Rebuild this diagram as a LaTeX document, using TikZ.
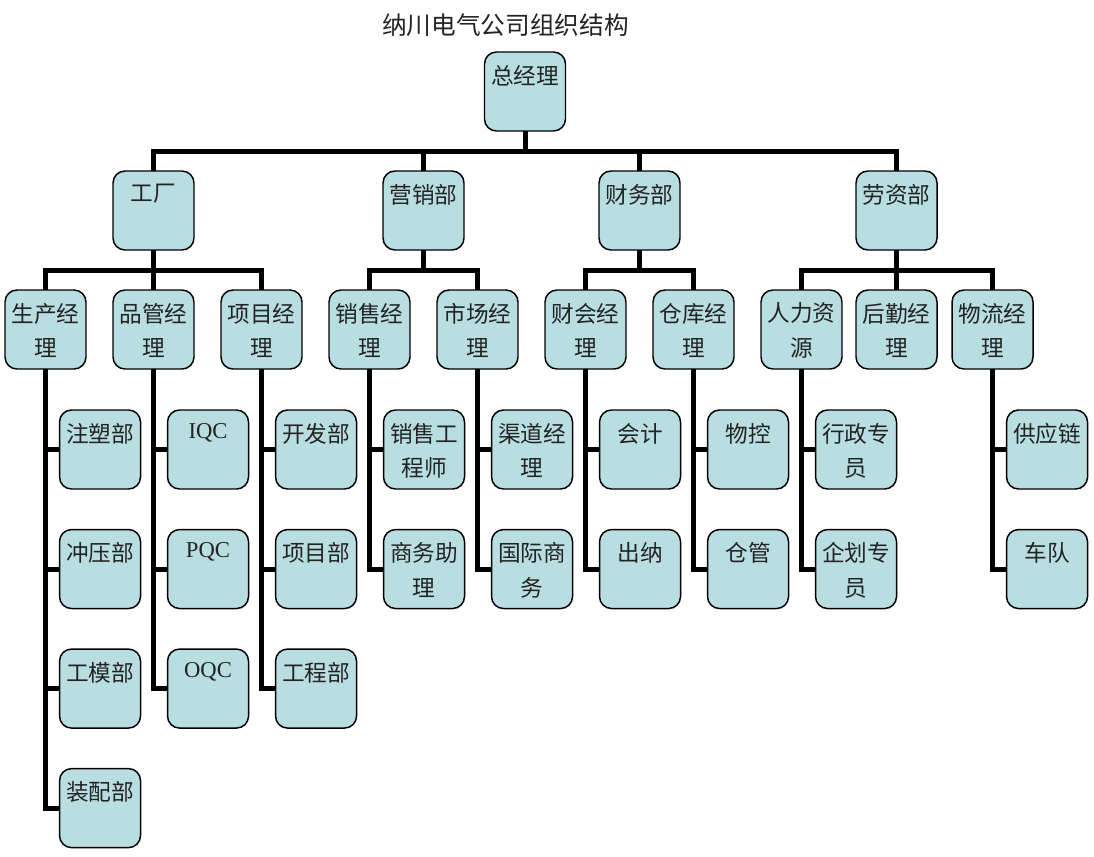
\documentclass[tikz,border=0pt]{standalone}
\usepackage{fontspec}
\setmainfont{Noto Sans CJK SC}
\newfontfamily\latinfont{Liberation Serif}
\usetikzlibrary{positioning, calc}
\definecolor{boxfill}{RGB}{185,222,226}
\definecolor{txtgray}{RGB}{35,35,35}

\tikzset{
  box/.style={draw, line width=1.1pt, rounded corners=9pt, fill=boxfill, text=txtgray,
    minimum width=60.75pt, minimum height=59.25pt, inner xsep=0pt, inner ysep=9.75pt, outer sep=0pt,
    execute at begin node={\begin{minipage}[t][39.75pt][t]{58pt}\centering\fontsize{17}{26}\selectfont},
    execute at end node={\end{minipage}}},
  conn/.style={line width=3.75pt},
  title/.style={font=\fontsize{18.5}{22}\selectfont, text=txtgray}
}

\begin{document}
\begin{tikzpicture}[x=0.75pt, y=-0.75pt]
    \useasboundingbox (0,0) rectangle (1094,856);

        % Title
        \node[title] (ttl) at (505.5,25) {纳川电气公司组织结构};

        % Managers, third row
        \node[box] (pm) at (45.5,329.5) {生产经\\理};
        \node[box] (qm) [right=20.25pt of pm] {品管经\\理};
        \node[box] (jm) [right=20.25pt of qm] {项目经\\理};
        \node[box] (sm) [right=20.25pt of jm] {销售经\\理};
        \node[box] (mm) [right=20.25pt of sm] {市场经\\理};
        \node[box] (am) [right=20.25pt of mm] {财会经\\理};
        \node[box] (wm) [right=20.25pt of am] {仓库经\\理};
        \node[box] (hm) [right=20.25pt of wm] {人力资\\源};
        \node[box] (lm) [right=10.5pt of hm] {后勤经\\理};
        \node[box] (tm) [right=11.25pt of lm] {物流经\\理};

        % Departments
        \coordinate (smm) at ($(sm.north)!0.5!(mm.north)$);
        \coordinate (amw) at ($(am.north)!0.5!(wm.north)$);
        \node[box] (fac) [above=30pt of qm] {工厂};
        \node[box] (mkt) [above=30pt of smm] {营销部};
        \node[box] (fin) [above=30pt of amw] {财务部};
        \node[box] (lab) [above=30pt of lm] {劳资部};

        % General manager
        \coordinate (top) at ($(fac.north)!0.5!(lab.north)$);
        \node[box] (gm) [above=30pt of top] {总经理};

        % Staff under each manager
        \node[box] (p1) [below=30.75pt of pm, xshift=40.9pt] {注塑部};
        \node[box] (p2) [below=30.4pt of p1] {冲压部};
        \node[box] (p3) [below=30.4pt of p2] {工模部};
        \node[box] (p4) [below=30.4pt of p3] {装配部};

        \node[box] (q1) [below=30.75pt of qm, xshift=40.9pt] {\latinfont IQC};
        \node[box] (q2) [below=30.4pt of q1] {\latinfont PQC};
        \node[box] (q3) [below=30.4pt of q2] {\latinfont OQC};

        \node[box] (j1) [below=30.75pt of jm, xshift=40.9pt] {开发部};
        \node[box] (j2) [below=30.4pt of j1] {项目部};
        \node[box] (j3) [below=30.4pt of j2] {工程部};

        \node[box] (s1) [below=30.75pt of sm, xshift=40.9pt] {销售工\\程师};
        \node[box] (s2) [below=30.4pt of s1] {商务助\\理};

        \node[box] (m1) [below=30.75pt of mm, xshift=40.9pt] {渠道经\\理};
        \node[box] (m2) [below=30.4pt of m1] {国际商\\务};

        \node[box] (a1) [below=30.75pt of am, xshift=40.9pt] {会计};
        \node[box] (a2) [below=30.4pt of a1] {出纳};

        \node[box] (w1) [below=30.75pt of wm, xshift=40.9pt] {物控};
        \node[box] (w2) [below=30.4pt of w1] {仓管};

        \node[box] (h1) [below=30.75pt of hm, xshift=40.9pt] {行政专\\员};
        \node[box] (h2) [below=30.4pt of h1] {企划专\\员};

        \node[box] (t1) [below=30.75pt of tm, xshift=40.9pt] {供应链};
        \node[box] (t2) [below=30.4pt of t1] {车队};

        % Lines from the general manager
        \draw[conn] (gm.south) -- ++(0,20);
        \draw[conn] (fac.north) -- ++(0,-20) -| (lab.north);
        \draw[conn] (mkt.north) -- ++(0,-20);
        \draw[conn] (fin.north) -- ++(0,-20);

        % Lines from the departments
        \draw[conn] (pm.north) -- ++(0,-20) -| (jm.north);
        \draw[conn] (fac.south) -- (qm.north);
        \draw[conn] (sm.north) -- ++(0,-20) -| (mm.north);
        \draw[conn] (mkt.south) -- ++(0,20);
        \draw[conn] (am.north) -- ++(0,-20) -| (wm.north);
        \draw[conn] (fin.south) -- ++(0,20);
        \draw[conn] (hm.north) -- ++(0,-20) -| (tm.north);
        \draw[conn] (lab.south) -- (lm.north);

        % Lines from the managers
        \draw[conn] (pm.south) |- (p4.west);
        \draw[conn] (pm.south |- p1.west) -- (p1.west);
        \draw[conn] (pm.south |- p2.west) -- (p2.west);
        \draw[conn] (pm.south |- p3.west) -- (p3.west);

        \draw[conn] (qm.south) |- (q3.west);
        \draw[conn] (qm.south |- q1.west) -- (q1.west);
        \draw[conn] (qm.south |- q2.west) -- (q2.west);

        \draw[conn] (jm.south) |- (j3.west);
        \draw[conn] (jm.south |- j1.west) -- (j1.west);
        \draw[conn] (jm.south |- j2.west) -- (j2.west);

        \draw[conn] (sm.south) |- (s2.west);
        \draw[conn] (sm.south |- s1.west) -- (s1.west);
        \draw[conn] (mm.south) |- (m2.west);
        \draw[conn] (mm.south |- m1.west) -- (m1.west);
        \draw[conn] (am.south) |- (a2.west);
        \draw[conn] (am.south |- a1.west) -- (a1.west);
        \draw[conn] (wm.south) |- (w2.west);
        \draw[conn] (wm.south |- w1.west) -- (w1.west);
        \draw[conn] (hm.south) |- (h2.west);
        \draw[conn] (hm.south |- h1.west) -- (h1.west);
        \draw[conn] (tm.south) |- (t2.west);
        \draw[conn] (tm.south |- t1.west) -- (t1.west);

\end{tikzpicture}
\end{document}
